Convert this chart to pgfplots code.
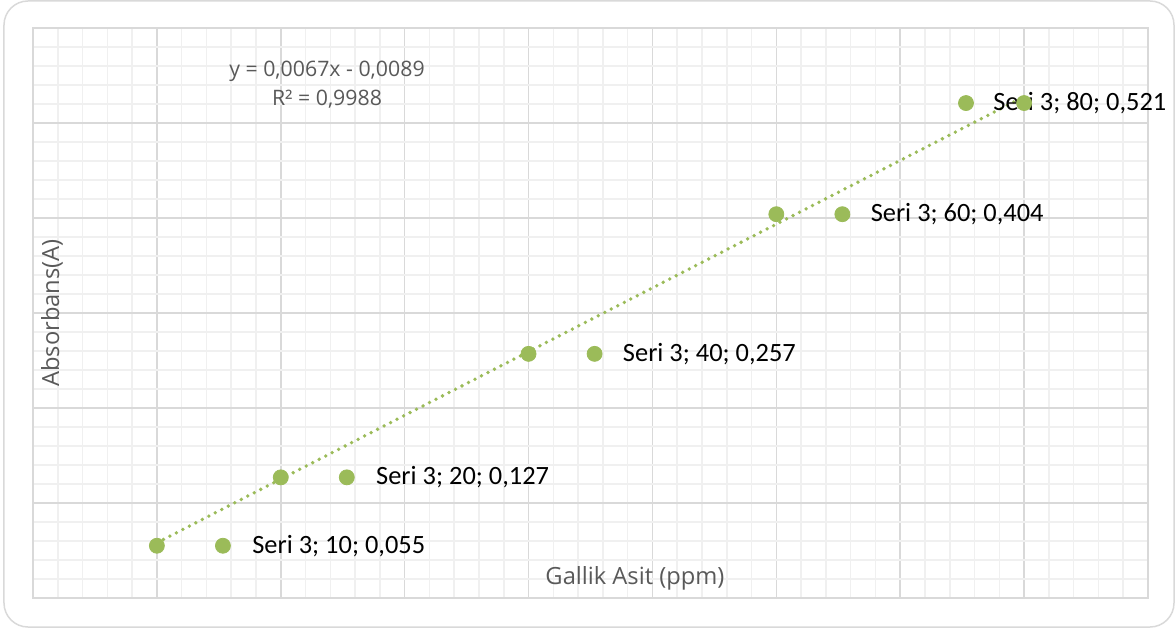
\documentclass[border=0pt]{standalone}
\usepackage{pgfplots}
\pgfplotsset{compat=1.18}
\usepackage{fontspec}
\setmainfont{Carlito}
\newfontfamily\opensans{Open Sans}
\definecolor{gridmaj}{HTML}{D9D9D9}
\definecolor{gridmin}{HTML}{F0F0F0}
\definecolor{seri}{HTML}{9BBB59}
\definecolor{txtgray}{HTML}{595959}

\begin{document}
\begin{tikzpicture}
\begin{axis}[
  scale only axis,
  width=557.5pt, height=285pt,
  xmin=0, xmax=90, ymin=0, ymax=0.6,
  xtick={0,10,20,30,40,50,60,70,80,90},
  ytick={0,0.1,0.2,0.3,0.4,0.5,0.6},
  minor x tick num=4, minor y tick num=4,
  xticklabels={}, yticklabels={},
  major tick length=0pt, minor tick length=0pt,
  grid=both,
  major grid style={gridmaj, line width=0.75pt},
  minor grid style={gridmin, line width=0.75pt},
  axis line style={gridmaj, line width=0.75pt},
  clip=false,
]
% trendline (linear fit)
\addplot[seri, line width=1.9pt, dash pattern=on 0pt off 3.65pt, line cap=round]
  coordinates {(10,0.0581) (80,0.5277)};
% measured points
\addplot[only marks, mark=*, mark size=3.75pt, mark options={fill=seri, draw=seri}]
  coordinates {(10,0.055) (20,0.127) (40,0.257) (60,0.404) (80,0.521)};
% legend keys of the data labels
\addplot[only marks, mark=*, mark size=3.75pt, mark options={fill=seri, draw=seri}]
  coordinates {(15.33,0.055) (25.33,0.127) (45.33,0.257) (65.33,0.404) (75.31,0.521)};

\begin{scope}[every node/.style={anchor=west, inner sep=0pt, font=\fontsize{13.2}{15}\selectfont}]
\node[xshift=14.5pt] at (axis cs:15.33,0.055) {Seri 3; 10; 0,055};
\node[xshift=14.5pt] at (axis cs:25.33,0.127) {Seri 3; 20; 0,127};
\node[xshift=14pt] at (axis cs:45.33,0.257) {Seri 3; 40; 0,257};
\node[xshift=14pt] at (axis cs:65.33,0.404) {Seri 3; 60; 0,404};
\node[xshift=13.5pt] at (axis cs:75.31,0.521) {Seri 3; 80; 0,521};
\end{scope}

\node[align=center, text=txtgray, inner sep=0pt, font=\opensans\fontsize{10.65}{14.5}\selectfont]
  at (axis cs:23.73,0.5405) {y = 0,0067x - 0,0089\\R² = 0,9988};
\node[text=txtgray, inner sep=0pt, font=\opensans\fontsize{11.85}{14}\selectfont]
  at (axis cs:48.59,0.0211) {Gallik Asit (ppm)};
\node[text=txtgray, inner sep=0pt, rotate=90, font=\opensans\fontsize{11.85}{14}\selectfont]
  at (axis cs:1.534,0.3) {Absorbans(A)};
\end{axis}
\draw[gridmaj, line width=0.75pt, rounded corners=12pt] (-14.5pt,-14.5pt) rectangle (570.5pt,298.5pt);
\pgfresetboundingbox
\path[use as bounding box] (-16.5pt,-17pt) rectangle (571.5pt,299pt);
\end{tikzpicture}
\end{document}
